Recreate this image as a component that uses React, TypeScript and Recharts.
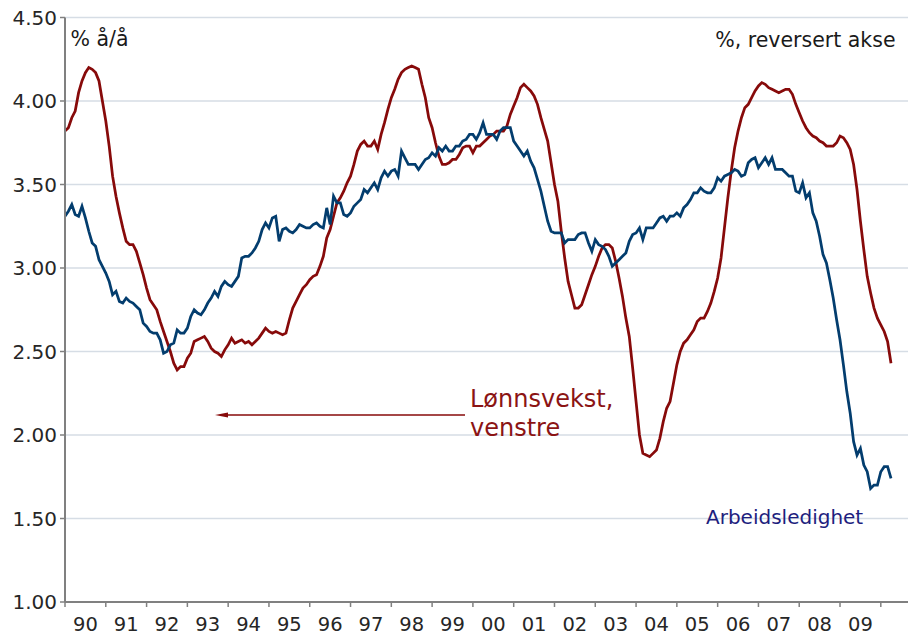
import React from "react";
import { LineChart, Line, XAxis, YAxis, CartesianGrid } from "recharts";

// monthly observations from Jan 1990 (index 0) to Apr 2010
const startYear = 1990;

// Lønnsvekst, % å/å (left axis)
const wageGrowth = [
  3.82, 3.84, 3.9, 3.94, 4.05, 4.12, 4.17, 4.2, 4.19, 4.17,
  4.12, 4.0, 3.88, 3.73, 3.55, 3.43, 3.33, 3.24, 3.16, 3.14,
  3.14, 3.1, 3.03, 2.96, 2.88, 2.81, 2.78, 2.75, 2.68, 2.62,
  2.56, 2.5, 2.43, 2.39, 2.41, 2.41, 2.46, 2.49, 2.56, 2.57,
  2.58, 2.59, 2.56, 2.52, 2.5, 2.49, 2.47, 2.51, 2.54, 2.58,
  2.55, 2.56, 2.57, 2.55, 2.56, 2.54, 2.56, 2.58, 2.61, 2.64,
  2.62, 2.61, 2.62, 2.61, 2.6, 2.61, 2.69, 2.76, 2.8, 2.84,
  2.88, 2.9, 2.93, 2.95, 2.96, 3.01, 3.07, 3.18, 3.23, 3.31,
  3.39, 3.42, 3.46, 3.51, 3.55, 3.62, 3.7, 3.74, 3.76, 3.73,
  3.73, 3.76, 3.71, 3.8, 3.87, 3.95, 4.02, 4.07, 4.13, 4.17,
  4.19, 4.2, 4.21, 4.2, 4.19, 4.1, 4.02, 3.9, 3.84, 3.75,
  3.67, 3.62, 3.62, 3.63, 3.65, 3.65, 3.68, 3.72, 3.73, 3.73,
  3.69, 3.73, 3.73, 3.75, 3.77, 3.79, 3.8, 3.82, 3.82, 3.82,
  3.85, 3.92, 3.97, 4.02, 4.08, 4.1, 4.08, 4.06, 4.03, 3.98,
  3.9, 3.83, 3.76, 3.63, 3.5, 3.4, 3.22, 3.06, 2.92, 2.84,
  2.76, 2.76, 2.78, 2.84, 2.9, 2.96, 3.01, 3.07, 3.12, 3.14,
  3.14, 3.12, 3.04, 2.94, 2.83, 2.7, 2.59, 2.4, 2.2, 2.0,
  1.89, 1.88, 1.87, 1.89, 1.91, 1.98, 2.08, 2.16, 2.2, 2.31,
  2.42, 2.5, 2.55, 2.57, 2.6, 2.63, 2.68, 2.7, 2.7, 2.74,
  2.79, 2.86, 2.94, 3.06, 3.24, 3.42, 3.58, 3.72, 3.82, 3.9,
  3.96, 3.98, 4.02, 4.06, 4.09, 4.11, 4.1, 4.08, 4.07, 4.06,
  4.05, 4.06, 4.07, 4.07, 4.04, 3.98, 3.93, 3.88, 3.84, 3.81,
  3.79, 3.78, 3.76, 3.75, 3.73, 3.73, 3.73, 3.75, 3.79, 3.78,
  3.75, 3.71, 3.62, 3.47, 3.28, 3.11, 2.95, 2.85, 2.76, 2.7,
  2.66, 2.62, 2.56, 2.43,
];

const unemployment = [
  3.31, 3.34, 3.38, 3.32, 3.31, 3.37, 3.3, 3.22, 3.15, 3.13,
  3.05, 3.01, 2.97, 2.92, 2.84, 2.86, 2.8, 2.79, 2.82, 2.8,
  2.79, 2.77, 2.75, 2.67, 2.65, 2.62, 2.61, 2.61, 2.57, 2.49,
  2.5, 2.54, 2.55, 2.63, 2.61, 2.61, 2.64, 2.71, 2.75, 2.73,
  2.72, 2.75, 2.79, 2.82, 2.86, 2.83, 2.89, 2.92, 2.9, 2.89,
  2.92, 2.95, 3.06, 3.07, 3.07, 3.09, 3.12, 3.16, 3.23, 3.27,
  3.24, 3.3, 3.31, 3.16, 3.23, 3.24, 3.22, 3.21, 3.23, 3.26,
  3.25, 3.24, 3.24, 3.26, 3.27, 3.25, 3.24, 3.36, 3.26, 3.43,
  3.39, 3.39, 3.32, 3.31, 3.33, 3.37, 3.39, 3.41, 3.47, 3.45,
  3.48, 3.51, 3.47, 3.54, 3.58, 3.55, 3.58, 3.59, 3.55, 3.7,
  3.66, 3.62, 3.62, 3.62, 3.59, 3.62, 3.65, 3.66, 3.69, 3.67,
  3.72, 3.7, 3.73, 3.7, 3.7, 3.73, 3.73, 3.76, 3.77, 3.8,
  3.8, 3.77, 3.81, 3.87, 3.8, 3.8, 3.8, 3.77, 3.82, 3.84,
  3.84, 3.84, 3.76, 3.73, 3.7, 3.67, 3.7, 3.64, 3.6, 3.53,
  3.46, 3.37, 3.28, 3.22, 3.21, 3.21, 3.21, 3.15, 3.17, 3.17,
  3.17, 3.2, 3.21, 3.21, 3.15, 3.1, 3.17, 3.14, 3.13, 3.11,
  3.07, 3.01, 3.03, 3.05, 3.07, 3.09, 3.16, 3.2, 3.21, 3.24,
  3.17, 3.24, 3.24, 3.24, 3.27, 3.3, 3.31, 3.28, 3.31, 3.31,
  3.33, 3.31, 3.36, 3.38, 3.41, 3.45, 3.45, 3.48, 3.46, 3.45,
  3.45, 3.48, 3.54, 3.52, 3.55, 3.56, 3.57, 3.59, 3.58, 3.55,
  3.56, 3.63, 3.65, 3.66, 3.6, 3.63, 3.66, 3.62, 3.66, 3.59,
  3.59, 3.59, 3.57, 3.55, 3.55, 3.46, 3.45, 3.51, 3.42, 3.45,
  3.33, 3.28, 3.19, 3.08, 3.03, 2.93, 2.82, 2.69, 2.57, 2.42,
  2.26, 2.13, 1.96, 1.88, 1.92, 1.82, 1.78, 1.68, 1.7, 1.7,
  1.78, 1.81, 1.81, 1.74,
];

const yTicks = [1, 1.5, 2, 2.5, 3, 3.5, 4, 4.5];
const yearTicks = Array.from({ length: 21 }, (_, i) => i * 12);
const lastMonth = 248;

const data = wageGrowth.map((v, i) => ({
  m: i,
  lonn: v,
  ledighet: unemployment[i],
}));

const W = 910;
const H = 636;
const plotLeft = 65;
const plotRight = 908;
const font = "DejaVu Sans, Verdana, sans-serif";
const red = "#870a0a";
const blue = "#033d6e";
const axisGray = "#808080";

const halfYear = ((plotRight - plotLeft) / lastMonth) * 6;

const YearTick = (props: any) => {
  const { x, payload } = props;
  const yr = startYear + payload.value / 12;
  if (yr >= 2010) return null;
  return (
    <text
      x={x + halfYear}
      y={631}
      textAnchor="middle"
      fontSize={19.5}
      fontFamily={font}
      fill="#262626"
    >
      {String(yr % 100).padStart(2, "0")}
    </text>
  );
};

export default function App() {
  return (
    <div
      style={{
        position: "absolute",
        left: 0,
        top: 0,
        width: W,
        height: H,
        background: "#fff",
      }}
    >
      <LineChart
        width={W}
        height={H}
        data={data}
        margin={{ top: 17.5, right: W - plotRight, bottom: 0, left: 0 }}
      >
        <CartesianGrid vertical={false} stroke="#d6dde5" strokeWidth={1.3} />
        <XAxis
          dataKey="m"
          type="number"
          domain={[0, lastMonth]}
          ticks={yearTicks}
          interval={0}
          height={34}
          tick={<YearTick />}
          tickSize={5}
          tickLine={{ stroke: axisGray, strokeWidth: 1.5 }}
          axisLine={{ stroke: axisGray, strokeWidth: 2 }}
        />
        <YAxis
          domain={[1, 4.5]}
          ticks={yTicks}
          width={plotLeft}
          interval={0}
          tickFormatter={(v: number) => v.toFixed(2)}
          tick={{ fontSize: 20, fontFamily: font, fill: "#262626" }}
          tickSize={5}
          tickMargin={3}
          tickLine={{ stroke: axisGray, strokeWidth: 1.5 }}
          axisLine={{ stroke: axisGray, strokeWidth: 2 }}
        />
        <Line
          dataKey="lonn"
          type="linear"
          stroke={red}
          strokeWidth={2.75}
          dot={false}
          isAnimationActive={false}
        />
        <Line
          dataKey="ledighet"
          type="linear"
          stroke={blue}
          strokeWidth={2.75}
          dot={false}
          isAnimationActive={false}
        />
      </LineChart>
      <svg
        width={W}
        height={H}
        style={{ position: "absolute", left: 0, top: 0, pointerEvents: "none" }}
        fontFamily={font}
      >
        <text x={70.5} y={46} fontSize={20.5} fill="#1a1a1a">
          % å/å
        </text>
        <text x={895.5} y={46.5} fontSize={20.5} fill="#1a1a1a" textAnchor="end">
          %, reversert akse
        </text>
        <text x={470} y={406.5} fontSize={24} fill="#8b1414">
          Lønnsvekst,
        </text>
        <text x={470} y={436} fontSize={24} fill="#8b1414">
          venstre
        </text>
        <line x1={465} y1={415} x2={226} y2={415} stroke={red} strokeWidth={1.7} />
        <polygon points="215,415 228,412.4 228,417.6" fill={red} />
        <text x={706} y={524.3} fontSize={20} fill="#1e1e7e">
          Arbeidsledighet
        </text>
      </svg>
    </div>
  );
}
